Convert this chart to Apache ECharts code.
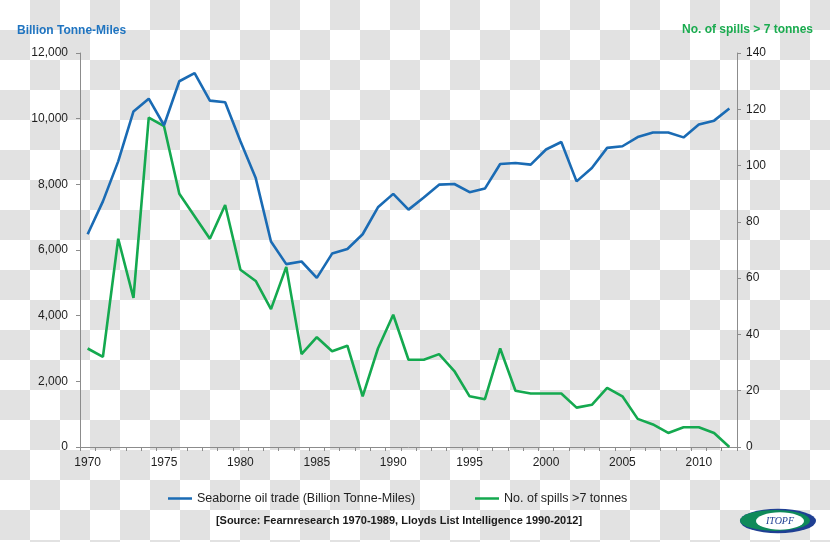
<!DOCTYPE html>
<html>
<head>
<meta charset="utf-8">
<script src="https://cdn.jsdelivr.net/npm/echarts@6/dist/echarts.min.js"></script>
<style>
html,body{margin:0;padding:0;}
body{width:830px;height:542px;background:repeating-conic-gradient(#e2e2e2 0 25%, #ffffff 0 50%) 0 0/60px 60px;}
#chart{width:830px;height:542px;}
</style>
</head>
<body>
<div id="chart"></div>
<script>
var years = ['1970','1971','1972','1973','1974','1975','1976','1977','1978','1979',
  '1980','1981','1982','1983','1984','1985','1986','1987','1988','1989',
  '1990','1991','1992','1993','1994','1995','1996','1997','1998','1999',
  '2000','2001','2002','2003','2004','2005','2006','2007','2008','2009',
  '2010','2011','2012'];
var tradeTonneMiles = [6480,7480,8700,10220,10610,9800,11140,11390,10550,10500,
  9310,8190,6260,5570,5650,5150,5890,6030,6480,7300,
  7710,7230,7600,7990,8010,7760,7870,8620,8650,8600,
  9060,9290,8090,8500,9110,9160,9440,9580,9580,9430,
  9820,9940,10310];
var spillsOver7t = [35,32,74,53,117,114,90,82,74,86,
  63,59,49,64,33,39,34,36,18,35,
  47,31,31,33,27,18,17,35,20,19,
  19,19,14,15,21,18,10,8,5,7,
  7,5,0];
var leftAxisTitle = 'Billion Tonne-Miles';
var rightAxisTitle = 'No. of spills > 7 tonnes';
var tradeName = 'Seaborne oil trade (Billion Tonne-Miles)';
var spillsName = 'No. of spills >7 tonnes';
var sourceNote = '[Source: Fearnresearch 1970-1989, Lloyds List Intelligence 1990-2012]';

var BLUE = '#1a6bb4';
var GREEN = '#14a94f';
var FONT = 'Liberation Sans';
var TXT = '#1e1e1e';
var AX = '#8c8c8c';

var chart = echarts.init(document.getElementById('chart'), null, {renderer:'canvas'});
chart.setOption({
  backgroundColor: 'transparent',
  animation: false,
  textStyle: {fontFamily: FONT},
  grid: {left: 80, right: 93, top: 53, bottom: 95, containLabel: false},
  legend: [
    {data: [tradeName], left: 163, top: 487, icon: 'rect', itemWidth: 24, itemHeight: 2.5, itemGap: 4,
     textStyle: {fontFamily: FONT, fontSize: 12.5, color: TXT}},
    {data: [spillsName], left: 470, top: 487, icon: 'rect', itemWidth: 24, itemHeight: 2.5, itemGap: 4,
     textStyle: {fontFamily: FONT, fontSize: 12.5, color: TXT}}
  ],
  xAxis: {
    type: 'category', data: years, boundaryGap: true,
    axisLine: {lineStyle: {color: AX}},
    axisTick: {show: true, interval: 0, length: 4, lineStyle: {color: AX}},
    axisLabel: {interval: 4, margin: 10, fontSize: 12, color: TXT, fontFamily: FONT},
    splitLine: {show: false}
  },
  yAxis: [
    {type: 'value', min: 0, max: 12000, interval: 2000, position: 'left',
     axisLine: {show: true, lineStyle: {color: AX}},
     axisTick: {show: true, length: 4, lineStyle: {color: AX}},
     axisLabel: {margin: 12, fontSize: 12, color: TXT, fontFamily: FONT,
       formatter: function(v){return v.toLocaleString('en-US');}},
     splitLine: {show: false}},
    {type: 'value', min: 0, max: 140, interval: 20, position: 'right',
     axisLine: {show: true, lineStyle: {color: AX}},
     axisTick: {show: true, length: 4, lineStyle: {color: AX}},
     axisLabel: {margin: 9, fontSize: 12, color: TXT, fontFamily: FONT},
     splitLine: {show: false}}
  ],
  series: [
    {name: tradeName, type: 'line', yAxisIndex: 0, data: tradeTonneMiles,
     showSymbol: false, symbol: 'none', lineStyle: {color: BLUE, width: 2.6}, itemStyle: {color: BLUE}, z: 3},
    {name: spillsName, type: 'line', yAxisIndex: 1, data: spillsOver7t,
     showSymbol: false, symbol: 'none', lineStyle: {color: GREEN, width: 2.6}, itemStyle: {color: GREEN}, z: 2}
  ],
  graphic: [
    {type: 'text', left: 17, top: 25, style: {text: leftAxisTitle, fill: '#1f74c0', font: 'bold 12px "Liberation Sans"'}},
    {type: 'text', right: 17, top: 24, style: {text: rightAxisTitle, fill: '#1aab4f', font: 'bold 12px "Liberation Sans"'}},
    {type: 'text', x: 399, y: 521, style: {text: sourceNote, fill: '#1a1a1a', font: 'bold 11px "Liberation Sans"', align: 'center', verticalAlign: 'middle'}},
    {type: 'group', x: 778, y: 521, children: [
      {type: 'circle', shape: {cx: 0, cy: 0, r: 38}, scaleY: 0.32, style: {fill: '#1f3f93'}},
      {type: 'circle', shape: {cx: -3, cy: -2, r: 35}, scaleY: 0.30, style: {fill: '#0f8a5a'}},
      {type: 'circle', shape: {cx: 2, cy: 0, r: 24}, scaleY: 0.36, style: {fill: '#ffffff'}},
      {type: 'text', x: 2, y: 0, style: {text: 'ITOPF', fill: '#1f3f93', font: 'italic 10px "Liberation Serif"', align: 'center', verticalAlign: 'middle'}}
    ]}
  ]
});
</script>
</body>
</html>
